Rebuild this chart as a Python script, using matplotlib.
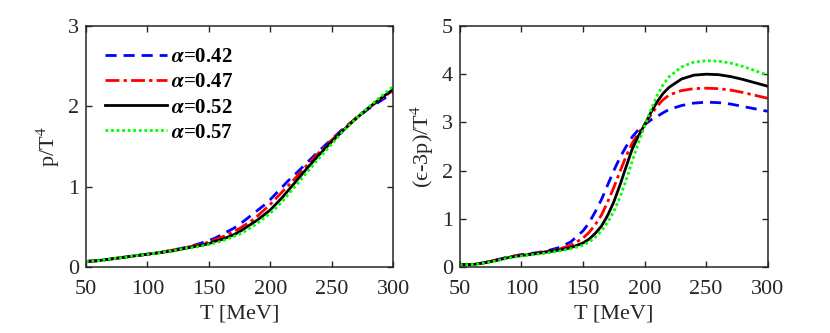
import numpy as np
import matplotlib.pyplot as plt

plt.rcParams['font.family'] = ['Liberation Serif', 'DejaVu Serif']
plt.rcParams['mathtext.fontset'] = 'stix'

# === DATA ===
T = [50, 60, 70, 80, 90, 100, 110, 120, 130, 140,
     150, 155, 160, 165, 170, 175, 180, 185, 190, 195, 200, 205, 210, 215, 220,
     230, 240, 250, 260, 270, 280, 290, 300]

alphas = ["0.42", "0.47", "0.52", "0.57"]

# p/T^4
p_042 = [0.07, 0.08, 0.10, 0.12, 0.14, 0.16, 0.18, 0.21, 0.24, 0.28,
         0.33, 0.36, 0.40, 0.44, 0.48, 0.53, 0.59, 0.65, 0.71, 0.77, 0.84, 0.92, 1.00, 1.08, 1.15,
         1.30, 1.45, 1.59, 1.73, 1.85, 1.97, 2.07, 2.17]
p_047 = [0.07, 0.08, 0.10, 0.12, 0.14, 0.16, 0.18, 0.21, 0.24, 0.27,
         0.31, 0.34, 0.37, 0.40, 0.44, 0.48, 0.53, 0.58, 0.64, 0.71, 0.78, 0.86, 0.94, 1.02, 1.10,
         1.27, 1.43, 1.58, 1.72, 1.86, 1.98, 2.09, 2.20]
p_052 = [0.07, 0.08, 0.10, 0.12, 0.14, 0.16, 0.18, 0.20, 0.23, 0.26,
         0.29, 0.32, 0.34, 0.37, 0.40, 0.44, 0.49, 0.54, 0.59, 0.65, 0.71, 0.79, 0.87, 0.96, 1.05,
         1.23, 1.40, 1.56, 1.71, 1.85, 1.98, 2.10, 2.21]
p_057 = [0.07, 0.08, 0.10, 0.12, 0.14, 0.16, 0.18, 0.20, 0.23, 0.25,
         0.28, 0.30, 0.32, 0.35, 0.38, 0.41, 0.45, 0.50, 0.55, 0.61, 0.67, 0.74, 0.82, 0.91, 1.00,
         1.18, 1.36, 1.53, 1.70, 1.85, 1.99, 2.12, 2.25]

# (e-3p)/T^4
i_042 = [0.05, 0.05, 0.09, 0.15, 0.21, 0.26, 0.29, 0.33, 0.40, 0.52,
         0.75, 0.92, 1.15, 1.40, 1.70, 2.00, 2.27, 2.50, 2.70, 2.85, 2.95, 3.05, 3.12, 3.20, 3.27,
         3.35, 3.40, 3.42, 3.41, 3.38, 3.33, 3.28, 3.23]
i_047 = [0.05, 0.05, 0.09, 0.15, 0.21, 0.25, 0.28, 0.32, 0.37, 0.45,
         0.60, 0.72, 0.88, 1.08, 1.35, 1.65, 1.98, 2.30, 2.57, 2.78, 2.95, 3.15, 3.33, 3.47, 3.57,
         3.66, 3.70, 3.71, 3.70, 3.67, 3.62, 3.56, 3.50]
i_052 = [0.05, 0.05, 0.09, 0.14, 0.20, 0.24, 0.27, 0.31, 0.35, 0.40,
         0.50, 0.58, 0.70, 0.85, 1.07, 1.35, 1.70, 2.08, 2.45, 2.72, 2.95, 3.20, 3.42, 3.60, 3.73,
         3.90, 3.98, 4.00, 3.99, 3.95, 3.89, 3.82, 3.75]
i_057 = [0.05, 0.05, 0.08, 0.13, 0.19, 0.23, 0.26, 0.29, 0.33, 0.38,
         0.45, 0.52, 0.62, 0.75, 0.93, 1.15, 1.45, 1.80, 2.20, 2.58, 2.92, 3.25, 3.55, 3.78, 3.95,
         4.15, 4.25, 4.28, 4.27, 4.23, 4.16, 4.07, 3.98]

# === STYLES ===
colors = ["#0000ff", "#ff0000", "#000000", "#00ff00"]
styles = [(0, (4, 2.5)), (0, (5, 1.5, 1.2, 1.5)), "-", (0, (1, 1))]
fs = 16

fig = plt.figure(figsize=(8.3, 3.33), dpi=100)
ax1 = fig.add_axes([0.1036, 0.198, 0.370, 0.724])
ax2 = fig.add_axes([0.554, 0.198, 0.371, 0.724])

for k, (p, i) in enumerate(zip([p_042, p_047, p_052, p_057],
                               [i_042, i_047, i_052, i_057])):
    lab = r"$\boldsymbol{\alpha}$=" + alphas[k]
    ax1.plot(T, p, color=colors[k], ls=styles[k], lw=2.0, label=lab)
    ax2.plot(T, i, color=colors[k], ls=styles[k], lw=2.0)

for ax in (ax1, ax2):
    ax.set_xlim(50, 300)
    ax.set_xticks([50, 100, 150, 200, 250, 300])
    ax.set_xlabel("T [MeV]", fontsize=fs, color="#262626", labelpad=4)
    ax.tick_params(direction="in", top=True, right=True, labelsize=fs,
                   colors="#262626", length=4, width=1)
    ax.tick_params(axis="x", pad=9)
    ax.tick_params(axis="y", pad=5)
    for s in ax.spines.values():
        s.set_linewidth(1.1)
        s.set_color("#262626")

ax1.set_ylim(0, 3)
ax1.set_yticks([0, 1, 2, 3])
ax1.set_ylabel(r"p/T$^4$", fontsize=fs, color="#262626", labelpad=4)

ax2.set_ylim(0, 5)
ax2.set_yticks([0, 1, 2, 3, 4, 5])
ax2.set_ylabel("(\u03f5-3p)/T$^4$", fontsize=fs, color="#262626", labelpad=4)

leg = ax1.legend(loc="upper left", frameon=False, handlelength=3.0,
                 handletextpad=0.2, labelspacing=0.25,
                 prop={"size": 15, "weight": "bold"},
                 bbox_to_anchor=(0.0, 0.99))

fig.savefig("out.png", dpi=100)
